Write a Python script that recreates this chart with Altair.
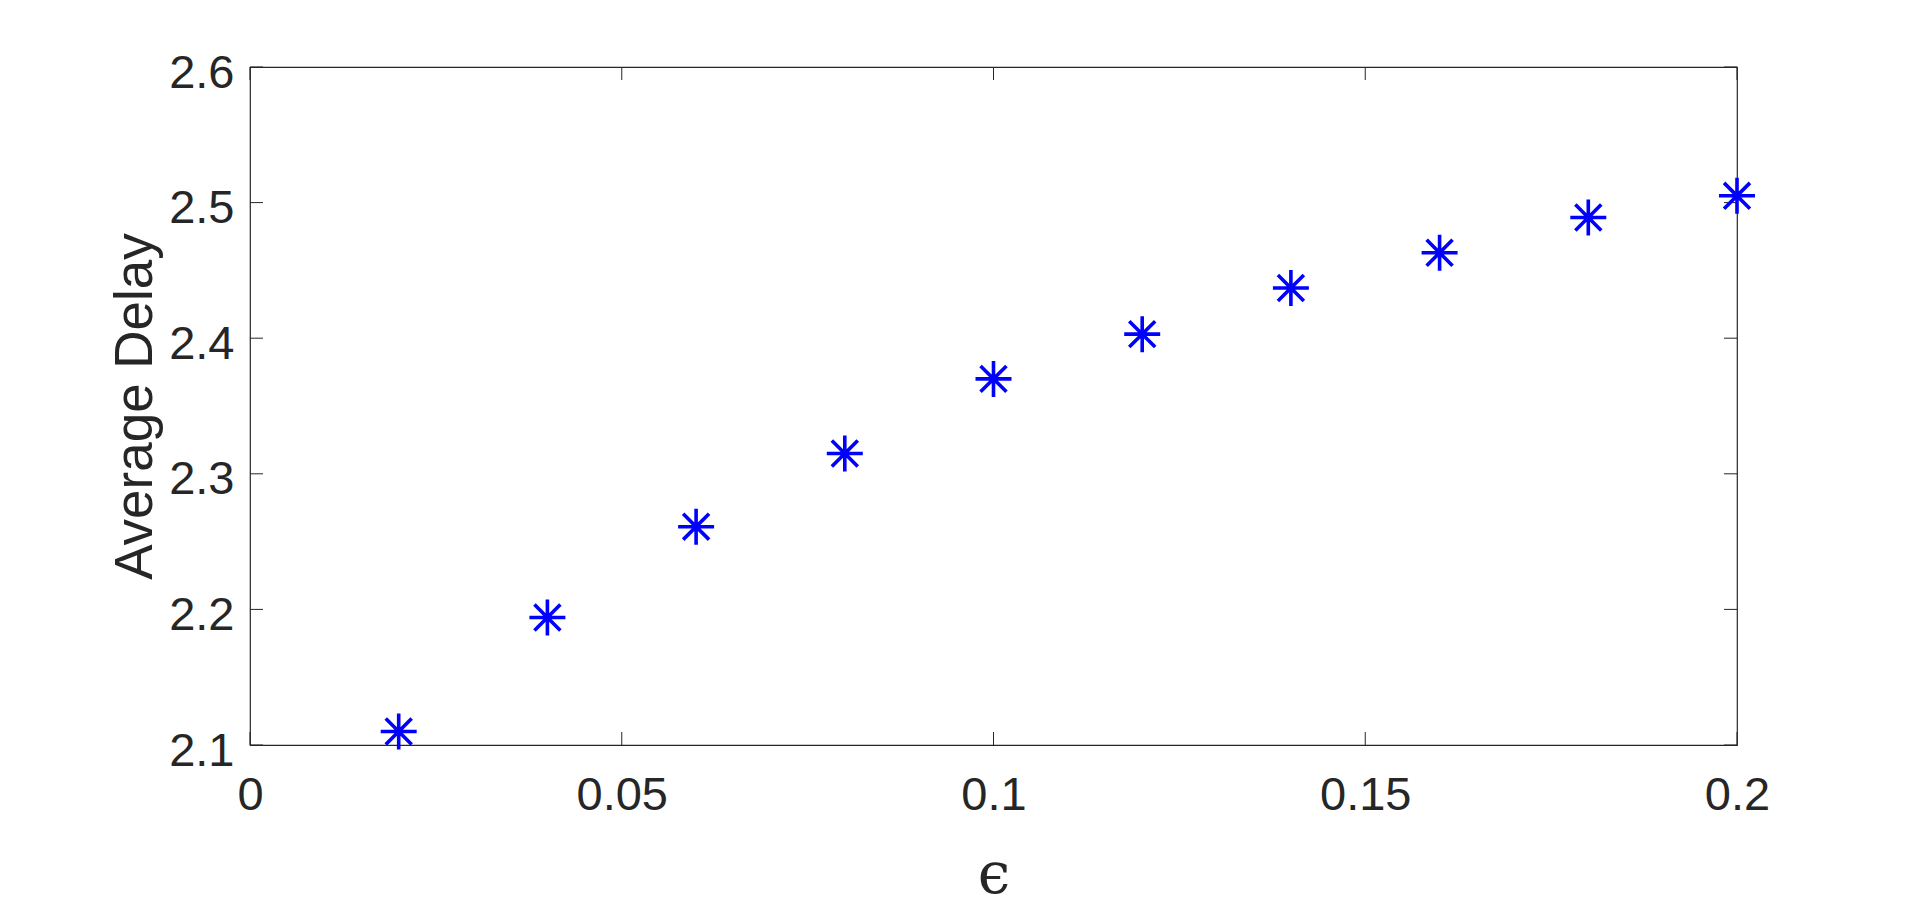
import altair as alt
import pandas as pd

# Data
eps = [0.02, 0.04, 0.06, 0.08, 0.10, 0.12, 0.14, 0.16, 0.18, 0.20]
delay = [2.110, 2.194, 2.261, 2.315, 2.370, 2.403, 2.437, 2.463, 2.489, 2.505]
x_ticks = [0, 0.05, 0.1, 0.15, 0.2]
y_ticks = [2.1, 2.2, 2.3, 2.4, 2.5, 2.6]

W, H = 1487, 678
TICK = 13
AX = "#262626"

df = pd.DataFrame({"eps": eps, "delay": delay})
dx = pd.DataFrame({"v": x_ticks})
dy = pd.DataFrame({"v": y_ticks})

xscale = alt.Scale(domain=[0, 0.2], nice=False, zero=False)
yscale = alt.Scale(domain=[2.1, 2.6], nice=False, zero=False)

xaxis = alt.Axis(
    values=x_ticks, format="~g", title="ϵ", domain=False, grid=False,
    ticks=False, tickSize=0, labelFont="Liberation Sans", labelFontSize=47,
    labelColor=AX, labelBaseline="alphabetic", labelPadding=64,
    labelFlush=False, labelOverlap=False, labelBound=False,
    titleFont="DejaVu Serif", titleFontSize=58, titleFontWeight="normal",
    titleColor=AX, titleX=W / 2, titleY=147, titleBaseline="alphabetic",
    titleAlign="center",
)
yaxis = alt.Axis(
    values=y_ticks, format=".1f", title="Average Delay", domain=False,
    grid=False, ticks=False, tickSize=0, labelFont="Liberation Sans",
    labelFontSize=47, labelColor=AX, labelPadding=16,
    labelBaseline="alphabetic", labelOffset=20,
    labelFlush=False, labelOverlap=False, labelBound=False,
    titleFont="Liberation Sans", titleFontSize=53, titleFontWeight="normal",
    titleColor=AX, titleAngle=270, titleX=-99, titleY=H / 2,
    titleBaseline="alphabetic", titleAlign="center",
)

star = "M-1,0L1,0M0,-1L0,1M-0.72,-0.72L0.72,0.72M-0.72,0.72L0.72,-0.72"

points = alt.Chart(df).mark_point(
    shape=star, filled=False, color="#0000FF", strokeWidth=3.6, size=1296,
    opacity=1,
).encode(
    x=alt.X("eps:Q", scale=xscale, axis=xaxis),
    y=alt.Y("delay:Q", scale=yscale, axis=yaxis),
)

tick_style = dict(color=AX, strokeWidth=1)
xt_bottom = alt.Chart(dx).mark_rule(**tick_style).encode(
    x=alt.X("v:Q", scale=xscale), y=alt.value(H), y2=alt.value(H - TICK))
xt_top = alt.Chart(dx).mark_rule(**tick_style).encode(
    x=alt.X("v:Q", scale=xscale), y=alt.value(0), y2=alt.value(TICK))
yt_left = alt.Chart(dy).mark_rule(**tick_style).encode(
    y=alt.Y("v:Q", scale=yscale), x=alt.value(0), x2=alt.value(TICK))
yt_right = alt.Chart(dy).mark_rule(**tick_style).encode(
    y=alt.Y("v:Q", scale=yscale), x=alt.value(W), x2=alt.value(W - TICK))

chart = alt.layer(xt_bottom, xt_top, yt_left, yt_right, points).properties(
    width=W, height=H,
    padding={"left": 242, "top": 59, "right": 150, "bottom": 162},
    autosize=alt.AutoSizeParams(type="none"),
    background="white",
).configure_view(stroke=AX, strokeWidth=1.2)

chart.save("out.html", embed_options={"renderer": "svg", "actions": False})
